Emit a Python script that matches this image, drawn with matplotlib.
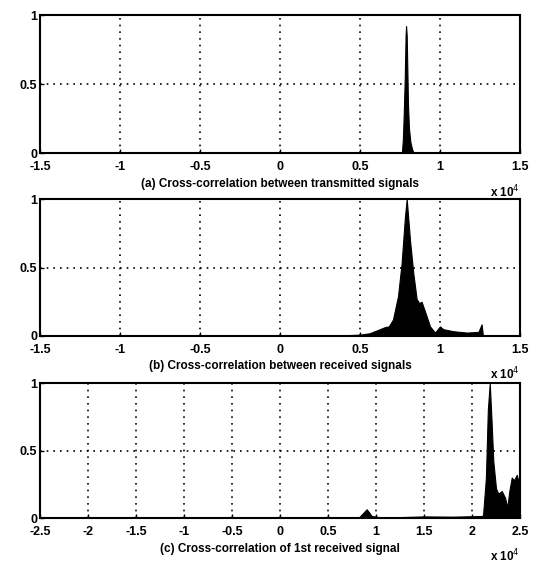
import matplotlib
matplotlib.use("Agg")
import matplotlib.pyplot as plt
from matplotlib.ticker import FuncFormatter

plt.rcParams['font.family'] = ['Liberation Sans', 'DejaVu Sans']

# (a) cross-correlation between transmitted signals (lag, normalised value)
lag_a = [-15000, 7620, 7680, 7740, 7800, 7850, 7880, 7920, 7960, 8000, 8060, 8150, 8250, 8350, 15000]
val_a = [0, 0, 0.1, 0.3, 0.55, 0.85, 0.92, 0.85, 0.6, 0.35, 0.18, 0.08, 0.03, 0, 0]

# (b) cross-correlation between received signals
lag_b = [-15000, 2800, 5000, 5600, 6250, 6560, 6800, 7060, 7375, 7600, 7810, 7920,
         8125, 8330, 8540, 8700, 8850, 9060, 9375, 9690, 10000, 10200, 10830,
         11670, 12400, 12600, 12680, 15000]
val_b = [0, 0, 0.01, 0.02, 0.05, 0.065, 0.07, 0.12, 0.29, 0.53, 0.87, 1.0,
         0.7, 0.46, 0.27, 0.24, 0.25, 0.18, 0.07, 0.025, 0.07, 0.05, 0.035,
         0.025, 0.03, 0.085, 0.005, 0]

# (c) cross-correlation of 1st received signal
lag_c = [-25000, 8000, 8300, 8700, 9030, 9300, 9550, 10000, 10700, 15000, 18000,
         21000, 21150, 21450, 21650, 21850, 22050, 22220, 22500, 22740, 23100,
         23440, 23680, 23890, 24140, 24380, 24660, 24900, 25000]
val_c = [0, 0, 0.01, 0.04, 0.065, 0.04, 0.015, 0.01, 0.003, 0.012, 0.01,
         0.015, 0.02, 0.3, 0.8, 1.0, 0.7, 0.42, 0.22, 0.18, 0.2,
         0.15, 0.08, 0.2, 0.3, 0.28, 0.32, 0.26, 0.25]

panels = [
    (lag_a, val_a, 1.5, "(a) Cross-correlation between transmitted signals"),
    (lag_b, val_b, 1.5, "(b) Cross-correlation between received signals"),
    (lag_c, val_c, 2.5, "(c) Cross-correlation of 1st received signal"),
]
boxes = [[0.075, 0.7282, 0.9006, 0.2451],
         [0.075, 0.4032, 0.9006, 0.2433],
         [0.075, 0.0799, 0.9006, 0.2398]]

fig = plt.figure(figsize=(5.33, 5.63), dpi=100)
for (lag, val, lim, label), box in zip(panels, boxes):
    ax = fig.add_axes(box)
    ax.fill_between(lag, val, 0, color='black', lw=0.8)
    ax.set_xlim(-lim * 1e4, lim * 1e4)
    ax.set_ylim(0, 1)
    n = int(lim * 2)
    ax.set_xticks([k * 0.5e4 for k in range(-n, n + 1)])
    ax.set_yticks([0, 0.5, 1])
    ax.xaxis.set_major_formatter(FuncFormatter(lambda v, p: '%g' % (v / 1e4)))
    ax.yaxis.set_major_formatter(FuncFormatter(lambda v, p: '%g' % v))
    ax.grid(True, color='black', linestyle=(0, (1, 3)), linewidth=1.2)
    ax.tick_params(direction='in', length=3, labelsize=9, width=1)
    ax.tick_params(axis='x', pad=6)
    ax.tick_params(axis='y', pad=2)
    for t in ax.get_xticklabels() + ax.get_yticklabels():
        t.set_fontweight('bold')
    for s in ax.spines.values():
        s.set_linewidth(1.5)
    ax.set_xlabel(label, fontsize=8.5, fontweight='bold', labelpad=3)
    ax.text(1.0, -0.28, r'x 10$^4$', transform=ax.transAxes, ha='right', va='center',
            fontsize=8.5, fontweight='bold')

fig.savefig("out.png", dpi=100)
